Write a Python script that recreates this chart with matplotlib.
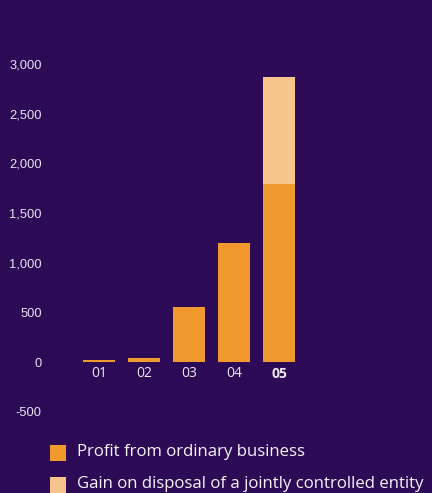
import matplotlib
matplotlib.use("Agg")
import matplotlib.pyplot as plt
from matplotlib.patches import Rectangle

years = ["01", "02", "03", "04", "05"]
profit = [20, 40, 560, 1200, 1795]
gain = [0, 0, 0, 0, 1075]
labels = ["Profit from ordinary business", "Gain on disposal of a jointly controlled entity"]
yticks = [-500, 0, 500, 1000, 1500, 2000, 2500, 3000]

bg = "#2c0a55"
c_profit = "#f09a2e"
c_gain = "#f7c48b"

fig = plt.figure(figsize=(4.32, 4.93), dpi=100, facecolor=bg)
ax = fig.add_axes([76.5 / 432, 81 / 493, 225 / 432, 348 / 493])
ax.set_facecolor(bg)

x = range(len(years))
ax.bar(x, profit, width=0.71, color=c_profit, linewidth=0)
ax.bar(x, gain, width=0.71, bottom=profit, color=c_gain, linewidth=0)

ax.set_xlim(-0.5, 4.5)
ax.set_ylim(-500, 3000)
ax.set_yticks(yticks)
ax.set_yticklabels([f"{v:,}" for v in yticks], fontfamily="Liberation Sans",
                   fontsize=9.3, color="#e8e4ef")
ax.tick_params(axis="y", length=0, pad=25)

# x labels sit just under the zero line
for i, yr in enumerate(years):
    ax.text(i, -115, yr, ha="center", va="center", fontsize=10,
            fontfamily="Open Sans", color="#ece8f2",
            fontweight="bold" if i == len(years) - 1 else "normal")
ax.set_xticks([])
for s in ax.spines.values():
    s.set_visible(False)

# legend
for j, (lab, col) in enumerate(zip(labels, [c_profit, c_gain])):
    ytop = 445 + j * 32
    fig.patches.append(Rectangle((50 / 432, 1 - (ytop + 16) / 493), 16 / 432, 16 / 493,
                                 transform=fig.transFigure, color=col, linewidth=0))
    fig.text(77 / 432, 1 - (ytop + 7) / 493, lab, ha="left", va="center",
             fontsize=12.1, fontfamily="Open Sans", color="#f6f3fa")

fig.savefig("out.png", facecolor=bg)
